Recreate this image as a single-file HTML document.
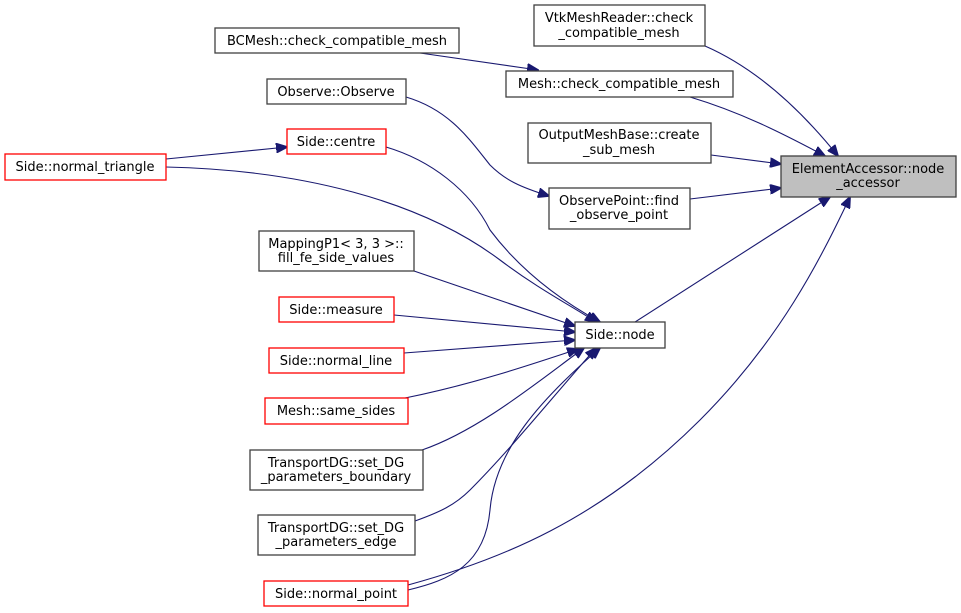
<!DOCTYPE html>
<html><head><meta charset="utf-8"><style>
html,body{margin:0;padding:0;background:#fff;}
svg{display:block;}
text{font-family:"DejaVu Sans","Liberation Sans",sans-serif;font-size:13px;fill:#000;text-anchor:middle;}
.b{fill:#fff;stroke:#404040;stroke-width:1.3;}
.r{fill:#fff;stroke:#ff0000;stroke-width:1.3;}
.e{fill:none;stroke:#191970;stroke-width:1.1;}
</style></head><body>
<svg width="961" height="613" viewBox="0 0 961 613" xmlns="http://www.w3.org/2000/svg">
<defs><marker id="a" markerWidth="12" markerHeight="10" refX="11" refY="5" orient="auto" markerUnits="userSpaceOnUse"><path d="M0,0 L12,5 L0,10 z" fill="#191970" stroke="#191970"/></marker></defs>
<g class="e" marker-end="url(#a)">
<path d="M420,53 L538,70"/>
<path d="M705,46 C760,70 805,115 838,156"/>
<path d="M690,97 C740,112 780,132 825,156"/>
<path d="M711,155 L781,164"/>
<path d="M690,199 L781,188"/>
<path d="M406,97 C450,110 470,140 490,165 C505,180 520,187 549,196"/>
<path d="M166,159 L287,147"/>
<path d="M386,147 C430,160 470,190 490,230 C520,270 560,300 600,322"/>
<path d="M166,167 C300,170 420,200 500,260 C540,290 570,305 596,322"/>
<path d="M414,271 L575,326"/>
<path d="M394,315 L575,332"/>
<path d="M404,353 L575,340"/>
<path d="M405,398 C470,385 530,365 578,349"/>
<path d="M422,450 C480,430 540,380 584,348"/>
<path d="M415,521 C440,512 455,505 470,490 C510,450 550,400 596,348"/>
<path d="M408,590 C450,580 485,565 490,510 C495,450 540,400 600,348"/>
<path d="M408,585 C500,560 600,520 700,420 C780,340 820,260 850,197"/>
<path d="M635,322 L830,197"/>
</g>
<rect class="b" x="215" y="28" width="244" height="25"/><text x="337" y="45">BCMesh::check_compatible_mesh</text>
<rect class="b" x="267" y="79" width="139" height="25"/><text x="336" y="96">Observe::Observe</text>
<rect class="r" x="287" y="129" width="99" height="25"/><text x="336" y="146">Side::centre</text>
<rect class="r" x="5" y="154" width="161" height="26"/><text x="85" y="171">Side::normal_triangle</text>
<rect class="b" x="259" y="231" width="155" height="40"/><text x="336" y="248">MappingP1&lt; 3, 3 &gt;::</text><text x="336" y="262">fill_fe_side_values</text>
<rect class="r" x="279" y="297" width="115" height="25"/><text x="336" y="314">Side::measure</text>
<rect class="r" x="269" y="348" width="135" height="25"/><text x="336" y="365">Side::normal_line</text>
<rect class="r" x="265" y="398" width="143" height="26"/><text x="336" y="415">Mesh::same_sides</text>
<rect class="b" x="250" y="450" width="173" height="40"/><text x="336" y="467">TransportDG::set_DG</text><text x="336" y="481">_parameters_boundary</text>
<rect class="b" x="258" y="515" width="157" height="40"/><text x="336" y="532">TransportDG::set_DG</text><text x="336" y="546">_parameters_edge</text>
<rect class="r" x="264" y="581" width="144" height="25"/><text x="336" y="598">Side::normal_point</text>
<rect class="b" x="575" y="322" width="90" height="26"/><text x="620" y="339">Side::node</text>
<rect class="b" x="534" y="5" width="171" height="41"/><text x="619" y="22">VtkMeshReader::check</text><text x="619" y="37">_compatible_mesh</text>
<rect class="b" x="506" y="71" width="227" height="26"/><text x="619" y="88">Mesh::check_compatible_mesh</text>
<rect class="b" x="528" y="123" width="183" height="40"/><text x="619" y="139">OutputMeshBase::create</text><text x="619" y="154">_sub_mesh</text>
<rect class="b" x="549" y="188" width="141" height="41"/><text x="619" y="205">ObservePoint::find</text><text x="619" y="219">_observe_point</text>
<rect x="781" y="156" width="175" height="41" fill="#bfbfbf" stroke="#404040" stroke-width="1.3"/><text x="868" y="173">ElementAccessor::node</text><text x="868" y="187">_accessor</text>
</svg>
</body></html>
